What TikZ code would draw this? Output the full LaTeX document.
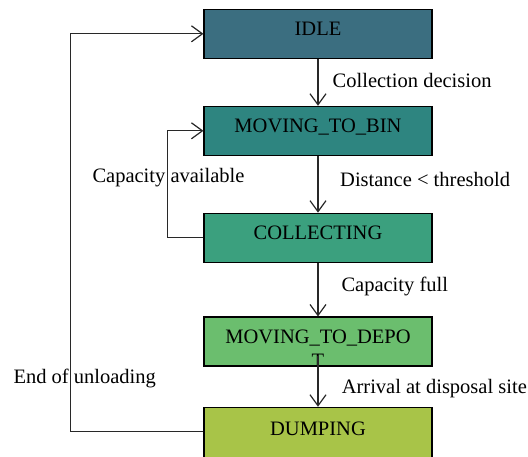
\documentclass[tikz,border=0pt]{standalone}
\usepackage{fontspec}
\setmainfont{Liberation Serif}
\usetikzlibrary{arrows.meta}

% state fill colours
\definecolor{cIdle}{RGB}{59,110,128}
\definecolor{cToBin}{RGB}{46,133,128}
\definecolor{cCollect}{RGB}{59,160,126}
\definecolor{cToDepot}{RGB}{107,190,110}
\definecolor{cDump}{RGB}{168,196,72}
\definecolor{lineC}{RGB}{40,40,40}

\begin{document}
\begin{tikzpicture}[x=1pt,y=-1pt,
  font=\fontsize{20.5}{23.5}\selectfont,
  state/.style={draw=black, line width=1.1pt, fill=#1,
    minimum width=228pt, minimum height=49pt, inner sep=0pt,
    text height=14pt, text depth=10pt},
  flow/.style={draw=lineC, line width=1.2pt,
    -{Straight Barb[length=11pt,width=16pt]}},
  cond/.style={anchor=base west, inner sep=0pt}]
\useasboundingbox (0,0) rectangle (528,456);

% states
\node[state=cIdle]    (idle)  at (318,33.8)  {IDLE};
\node[state=cToBin]   (tobin) at (318,130.8) {MOVING\_TO\_BIN};
\node[state=cCollect] (coll)  at (318,237.7) {COLLECTING};
\node[state=cToDepot] (depot) at (318,341.5)
  {\begin{tabular}[t]{@{}c@{}}MOVING\_TO\_DEPO\\T\end{tabular}};
% the last state runs past the lower edge of the picture
\node[state=cDump, minimum height=52pt] (dump) at (318,433.3) {DUMPING};

% transitions
\draw[flow] (idle.south) -- (tobin.north);
\draw[flow] (tobin.south) -- (coll.north);
\draw[flow] (coll.south) -- (depot.north);
\draw[flow] ([yshift=11pt]depot.south) -- (dump.north);
\draw[flow] (coll.west) -- ++(-36,0) |- (tobin.west);
\draw[flow] ([yshift=1.5pt]dump.west) -- ++(-133,0) |- (idle.west);

% transition conditions
\node[cond] (c1) at (332.5,87.3)  {Collection decision};
\node[cond] (c2) at (340,186.7)   {Distance < threshold};
\node[cond] (c3) at (92.3,182)    {Capacity available};
\node[cond] (c4) at (341.3,291.4) {Capacity full};
\node[cond] (c5) at (341.6,393.9) {Arrival at disposal site};
\node[cond] (c6) at (13.3,383.3)  {End of unloading};
\end{tikzpicture}
\end{document}
